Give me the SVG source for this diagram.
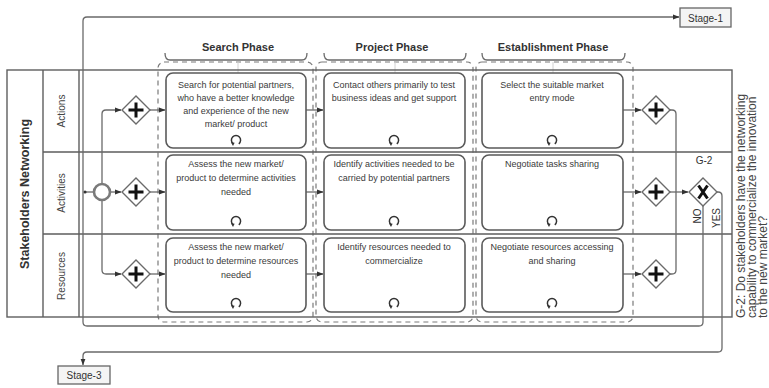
<svg xmlns="http://www.w3.org/2000/svg" width="769" height="388" viewBox="0 0 769 388">
  <style>
    .ln { fill: none; stroke: #6a6a6a; stroke-width: 1.3; }
    .pool { fill: none; stroke: #5e5e5e; stroke-width: 1.4; }
    .task { fill: #ffffff; stroke: #5a5a5a; stroke-width: 1.6; }
    .grp { fill: none; stroke: #7a7a7a; stroke-width: 1.2; stroke-dasharray: 5 4; }
    .faint { fill: none; stroke: #d2d2d2; stroke-width: 1; }
    .gw { fill: #ffffff; stroke: #6a6a6a; stroke-width: 1.4; }
    .mark { fill: none; stroke: #111; stroke-width: 3; }
    .t { font-family: "Liberation Sans", Arial, sans-serif; font-size: 9px; fill: #3a3a3a; text-anchor: middle; }
    .ph { font-family: "Liberation Sans", Arial, sans-serif; font-size: 11px; font-weight: bold; fill: #333; text-anchor: middle; }
    .lane { font-family: "Liberation Sans", Arial, sans-serif; font-size: 10px; fill: #444; text-anchor: middle; }
    .poolt { font-family: "Liberation Sans", Arial, sans-serif; font-size: 12.5px; font-weight: bold; fill: #333; text-anchor: middle; }
    .q { font-family: "Liberation Sans", Arial, sans-serif; font-size: 12px; fill: #444; }
    .lbl { font-family: "Liberation Sans", Arial, sans-serif; font-size: 10px; fill: #333; text-anchor: middle; }
  </style>
  <defs>
    <marker id="arr" viewBox="0 0 8 8" refX="7.5" refY="4" markerWidth="5" markerHeight="5" orient="auto">
      <path d="M0,1 L8,4 L0,7 Z" fill="#333"/>
    </marker>
    <!-- BPMN loop marker -->
    <g id="loop">
      <path d="M-2.8,3.8 A4.6,4.6 0 1 1 2.8,3.8" fill="none" stroke="#333" stroke-width="1.5"/>
      <path d="M-5,2.2 L-1.4,2.8 L-3,6 Z" fill="#333"/>
    </g>
    <!-- parallel gateway -->
    <g id="par">
      <path class="gw" d="M0,-14 L14,0 L0,14 L-14,0 Z"/>
      <path class="mark" d="M0,-7.5 V7.5 M-7.5,0 H7.5"/>
    </g>
  </defs>

  <rect width="769" height="388" fill="#ffffff"/>

  <!-- phase groups -->
  <g id="phases">
    <rect class="grp" x="158" y="62" width="155" height="260" rx="6"/>
    <rect class="grp" x="316" y="62" width="157" height="260" rx="6"/>
    <rect class="grp" x="476" y="62" width="157" height="260" rx="6"/>
    <path class="ln" d="M165,53 Q165,60 170,60 H302 Q307,60 307,53"/>
    <path class="ln" d="M324,53 Q324,60 329,60 H461 Q466,60 466,53"/>
    <path class="ln" d="M482,53 Q482,60 487,60 H620 Q625,60 625,53"/>
    <text class="ph" x="238" y="51">Search Phase</text>
    <text class="ph" x="392" y="51">Project Phase</text>
    <text class="ph" x="553" y="51">Establishment Phase</text>
    <path class="faint" d="M238,62 V73 M395,62 V73 M553,62 V73 M552,104 V136"/>
  </g>

  <!-- pool and lanes -->
  <g id="pool">
    <rect class="pool" x="7" y="70" width="725" height="247"/>
    <path class="pool" d="M43,70 V317 M79,70 V317 M43,152 H732 M43,234 H732"/>
    <text class="poolt" transform="translate(29,194) rotate(-90)">Stakeholders Networking</text>
    <text class="lane" transform="translate(65,111) rotate(-90)">Actions</text>
    <text class="lane" transform="translate(65,193) rotate(-90)">Activities</text>
    <text class="lane" transform="translate(65,276) rotate(-90)">Resources</text>
  </g>

  <!-- connectors -->
  <g id="connectors">
    <path class="ln" d="M84,192 H93"/>
    <circle cx="85" cy="192" r="1.6" fill="#333"/>
    <path class="ln" d="M110,192 H121" marker-end="url(#arr)"/>
    <path class="ln" d="M102,184 V114 Q102,110 106,110 H121" marker-end="url(#arr)"/>
    <path class="ln" d="M102,200 V270 Q102,274 106,274 H121" marker-end="url(#arr)"/>
    <path class="ln" d="M150,110 H165" marker-end="url(#arr)"/>
    <path class="ln" d="M150,192 H165" marker-end="url(#arr)"/>
    <path class="ln" d="M150,274 H165" marker-end="url(#arr)"/>
    <path class="ln" d="M306,110 H323" marker-end="url(#arr)"/>
    <path class="ln" d="M306,192 H323" marker-end="url(#arr)"/>
    <path class="ln" d="M306,274 H323" marker-end="url(#arr)"/>
    <path class="ln" d="M623,110 H641" marker-end="url(#arr)"/>
    <path class="ln" d="M623,192 H641" marker-end="url(#arr)"/>
    <path class="ln" d="M623,274 H641" marker-end="url(#arr)"/>
    <path class="ln" d="M670,110 H672 Q676,110 676,114 V270 Q676,274 672,274 H670"/>
    <path class="ln" d="M670,192 H688" marker-end="url(#arr)"/>
    <!-- NO: back to Stage-1 -->
    <path class="ln" d="M703,206 V322 Q703,326 699,326 H87 Q83,326 83,322 V21 Q83,17 87,17 H679" marker-end="url(#arr)"/>
    <!-- YES: on to Stage-3 -->
    <path class="ln" d="M717,192 H718 Q722,192 722,196 V348 Q722,352 718,352 H87 Q83,352 83,356 V365" marker-end="url(#arr)"/>
  </g>

  <!-- start event -->
  <g id="start">
    <circle cx="102" cy="192" r="8" fill="#ffffff" stroke="#7a7a7a" stroke-width="2.6"/>
  </g>

  <!-- split gateways -->
  <g id="split-actions"><use href="#par" x="136" y="110"/></g>
  <g id="split-activities"><use href="#par" x="136" y="192"/></g>
  <g id="split-resources"><use href="#par" x="136" y="274"/></g>

  <!-- search phase tasks -->
  <g id="search-actions">
    <rect class="task" x="166" y="73" width="140" height="75" rx="7"/>
    <text class="t" x="236" y="88">Search for potential partners,</text>
    <text class="t" x="236" y="101">who have a better knowledge</text>
    <text class="t" x="236" y="114">and experience of the new</text>
    <text class="t" x="236" y="127">market/ product</text>
    <use href="#loop" x="236" y="140"/>
  </g>
  <g id="search-activities">
    <rect class="task" x="166" y="155" width="140" height="75" rx="7"/>
    <text class="t" x="236" y="167">Assess the new market/</text>
    <text class="t" x="236" y="181">product to determine activities</text>
    <text class="t" x="236" y="195">needed</text>
    <use href="#loop" x="236" y="221"/>
  </g>
  <g id="search-resources">
    <rect class="task" x="166" y="238" width="140" height="74" rx="7"/>
    <text class="t" x="236" y="250">Assess the new market/</text>
    <text class="t" x="236" y="264">product to determine resources</text>
    <text class="t" x="236" y="278">needed</text>
    <use href="#loop" x="236" y="303"/>
  </g>

  <!-- project phase tasks -->
  <g id="project-actions">
    <rect class="task" x="324" y="73" width="141" height="75" rx="7"/>
    <text class="t" x="394" y="88">Contact others primarily to test</text>
    <text class="t" x="394" y="101">business ideas and get support</text>
    <use href="#loop" x="394" y="140"/>
  </g>
  <g id="project-activities">
    <rect class="task" x="324" y="155" width="141" height="75" rx="7"/>
    <text class="t" x="394" y="167">Identify activities needed to be</text>
    <text class="t" x="394" y="181">carried by potential partners</text>
    <use href="#loop" x="394" y="221"/>
  </g>
  <g id="project-resources">
    <rect class="task" x="324" y="238" width="141" height="74" rx="7"/>
    <text class="t" x="394" y="250">Identify resources needed to</text>
    <text class="t" x="394" y="264">commercialize</text>
    <use href="#loop" x="394" y="303"/>
  </g>

  <!-- establishment phase tasks -->
  <g id="establishment-actions">
    <rect class="task" x="482" y="73" width="141" height="75" rx="7"/>
    <text class="t" x="552" y="88">Select the suitable market</text>
    <text class="t" x="552" y="101">entry mode</text>
    <use href="#loop" x="552" y="140"/>
  </g>
  <g id="establishment-activities">
    <rect class="task" x="482" y="155" width="141" height="75" rx="7"/>
    <text class="t" x="552" y="167">Negotiate tasks sharing</text>
    <use href="#loop" x="552" y="221"/>
  </g>
  <g id="establishment-resources">
    <rect class="task" x="482" y="238" width="141" height="74" rx="7"/>
    <text class="t" x="552" y="250">Negotiate resources accessing</text>
    <text class="t" x="552" y="264">and sharing</text>
    <use href="#loop" x="552" y="303"/>
  </g>

  <!-- join gateways -->
  <g id="join-actions"><use href="#par" x="656" y="110"/></g>
  <g id="join-activities"><use href="#par" x="656" y="192"/></g>
  <g id="join-resources"><use href="#par" x="656" y="274"/></g>

  <!-- decision G-2 -->
  <g id="g2">
    <path class="gw" d="M703,178 L717,192 L703,206 L689,192 Z"/>
    <path class="mark" stroke-width="2.6" d="M698.5,185.5 L707.5,198.5 M707.5,185.5 L698.5,198.5"/>
    <text class="lbl" x="704" y="164">G-2</text>
    <text class="lbl" font-size="9" transform="translate(701,216) rotate(-90)">NO</text>
    <text class="lbl" font-size="9" transform="translate(720,218) rotate(-90)">YES</text>
  </g>

  <!-- question -->
  <g id="g2-question">
    <text class="q" transform="translate(745,318) rotate(-90)">G-2: Do stakeholders have the networking</text>
    <text class="q" transform="translate(756,318) rotate(-90)">capability to commercialize the innovation</text>
    <text class="q" transform="translate(767,318) rotate(-90)">to the new market?</text>
  </g>

  <!-- stage references -->
  <g id="stage-1">
    <rect x="680" y="8" width="51" height="19" fill="#f4f4f4" stroke="#666" stroke-width="1.3"/>
    <text class="lbl" x="705.5" y="21.5">Stage-1</text>
  </g>
  <g id="stage-3">
    <rect x="58" y="366" width="52" height="18" fill="#f4f4f4" stroke="#666" stroke-width="1.3"/>
    <text class="lbl" x="84" y="379">Stage-3</text>
  </g>
</svg>
